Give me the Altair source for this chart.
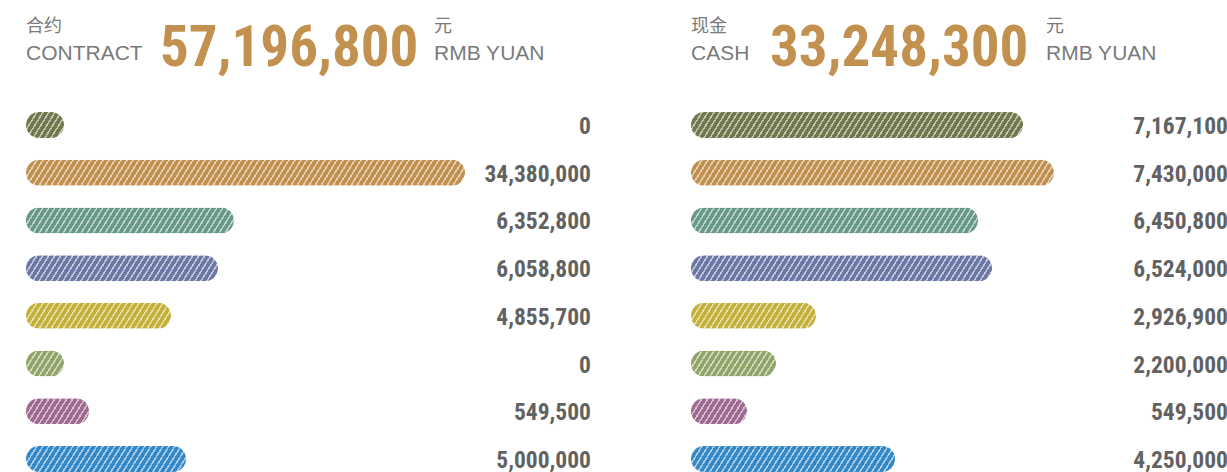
import math
import altair as alt
import pandas as pd

# ---------------- data ----------------
panel_keys = ["contract", "cash"]
header_cn = ["合约", "现金"]
header_en = ["CONTRACT", "CASH"]
unit_cn = ["元", "元"]
unit_en = ["RMB YUAN", "RMB YUAN"]
totals = [57196800, 33248300]

rows = [0, 1, 2, 3, 4, 5, 6, 7]
contract_values = [0, 34380000, 6352800, 6058800, 4855700, 0, 549500, 5000000]
cash_values = [7167100, 7430000, 6450800, 6524000, 2926900, 2200000, 549500, 4250000]
# bar length, as % of each panel's bar track
contract_bar_pct = [6.73, 77.7, 36.8, 33.98, 25.66, 6.73, 11.15, 28.32]
cash_bar_pct = [61.94, 67.72, 53.54, 56.16, 23.32, 15.86, 10.45, 38.06]

row_colors = ["#71784d", "#c18f4e", "#67988a", "#6b77a5", "#c3b13b",
              "#91a468", "#9f6a90", "#3588c7"]

# ---------------- layout / style ----------------
W_TOTAL = 1201
H_TOTAL = 472
track = {"contract": (0, 565), "cash": (665, 1201)}
label_x = {"contract": 565, "cash": 1202}
head_x = {"contract": (0, 134, 408), "cash": (665, 744, 1020)}
BAR_H = 26
NUM_FONT = "'Roboto Condensed', 'Open Sans Condensed', 'DejaVu Sans Condensed', Roboto, sans-serif"
TXT_FONT = "Liberation Sans, Arial, sans-serif"
CJK_FONT = "Noto Sans CJK SC"
GOLD = "#c3914f"
GRAY_LABEL = "#626262"
GRAY_TEXT = "#7a7a7a"


def mix(hex_color, t):
    h = hex_color.lstrip("#")
    r, g, b = (int(h[i:i + 2], 16) for i in (0, 2, 4))
    r = round(r + (255 - r) * t)
    g = round(g + (255 - g) * t)
    b = round(b + (255 - b) * t)
    return "#%02x%02x%02x" % (r, g, b)


def hatch(base, width_px, height_px=BAR_H, period=6.0, frac=0.3):
    light = mix(base, 0.58)
    s = math.tan(math.radians(32)) * height_px / width_px
    x2 = (1 + s) / (1 + s * s)
    y2 = s * x2
    n = width_px * (1 + s) / period
    p = 1.0 / n
    stops = []
    t = 0.0
    while t < 1.0:
        b = min(t + p * (1 - frac), 1.0)
        c = min(t + p, 1.0)
        stops += [(t, base), (b, base), (b, light), (c, light)]
        t += p
    return {
        "gradient": "linear",
        "x1": 0, "y1": 0, "x2": round(x2, 5), "y2": round(y2, 5),
        "stops": [{"offset": round(o, 5), "color": col} for o, col in stops],
    }


bars = []
for key, vals, pcts in [("contract", contract_values, contract_bar_pct),
                        ("cash", cash_values, cash_bar_pct)]:
    for r, v, p, col in zip(rows, vals, pcts, row_colors):
        bars.append({"panel": key, "row": r, "value": v, "pct": p, "color": col})
df = pd.DataFrame(bars)

head_df = pd.DataFrame({
    "panel": panel_keys, "cn": header_cn, "en": header_en,
    "ucn": unit_cn, "uen": unit_en, "total": totals,
})

y_scale = alt.Scale(domain=rows, range=[101.2, 482.8], paddingInner=0, paddingOuter=0)

layers = []
for key in panel_keys:
    x0, x1 = track[key]
    x_scale = alt.Scale(domain=[0, 100], range=[x0, x1])
    sub = df[df.panel == key]
    for _, rec in sub.iterrows():
        width_px = rec.pct / 100 * (x1 - x0)
        layers.append(
            alt.Chart(df)
            .transform_filter((alt.datum.panel == key) & (alt.datum.row == int(rec.row)))
            .mark_bar(fill=hatch(rec.color, width_px), cornerRadius=BAR_H / 2, size=BAR_H)
            .encode(
                x=alt.X("pct:Q", scale=x_scale, axis=None),
                y=alt.Y("row:O", scale=y_scale, axis=None),
            )
        )
    # value labels
    layers.append(
        alt.Chart(df)
        .transform_filter(alt.datum.panel == key)
        .mark_text(align="right", baseline="alphabetic", dy=9, font=NUM_FONT,
                   fontSize=23.5, fontWeight="bold", color=GRAY_LABEL)
        .encode(
            x=alt.value(label_x[key]),
            y=alt.Y("row:O", scale=y_scale, axis=None),
            text=alt.Text("value:Q", format=","),
        )
    )
    # header
    hx_label, hx_num, hx_unit = head_x[key]
    base_h = alt.Chart(head_df).transform_filter(alt.datum.panel == key)
    layers += [
        base_h.mark_text(align="left", baseline="alphabetic", font=CJK_FONT,
                         fontSize=18, color=GRAY_TEXT)
        .encode(x=alt.value(hx_label), y=alt.value(32), text="cn:N"),
        base_h.mark_text(align="left", baseline="alphabetic", font=TXT_FONT,
                         fontSize=21, color=GRAY_TEXT)
        .encode(x=alt.value(hx_label), y=alt.value(60), text="en:N"),
        base_h.mark_text(align="left", baseline="alphabetic", font=NUM_FONT,
                         fontSize=57, fontWeight="bold", color=GOLD)
        .encode(x=alt.value(hx_num), y=alt.value(66), text=alt.Text("total:Q", format=",")),
        base_h.mark_text(align="left", baseline="alphabetic", font=CJK_FONT,
                         fontSize=18, color=GRAY_TEXT)
        .encode(x=alt.value(hx_unit), y=alt.value(32), text="ucn:N"),
        base_h.mark_text(align="left", baseline="alphabetic", font=TXT_FONT,
                         fontSize=21, color=GRAY_TEXT)
        .encode(x=alt.value(hx_unit), y=alt.value(60), text="uen:N"),
    ]

chart = (
    alt.layer(*layers)
    .resolve_scale(x="independent")
    .properties(
        width=W_TOTAL,
        height=H_TOTAL,
        autosize=alt.AutoSizeParams(type="none"),
        padding={"left": 26, "top": 0, "right": 0, "bottom": 0},
        background="white",
    )
    .configure_view(stroke=None)
)

chart.save("out.html", embed_options={"renderer": "svg", "actions": False})
